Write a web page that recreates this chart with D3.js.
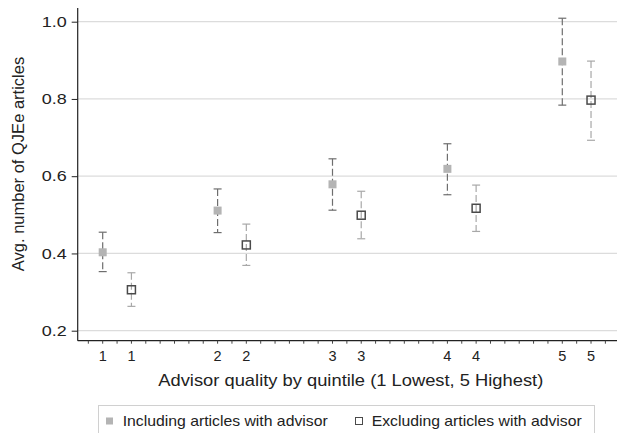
<!DOCTYPE html>
<html>
<head>
<meta charset="utf-8">
<script src="https://cdn.jsdelivr.net/npm/d3@7"></script>
<style>
  body { margin: 0; background: #fff; }
  text { font-family: "Liberation Sans", Arial, sans-serif; fill: #222; }
</style>
</head>
<body>
<svg id="chart"></svg>
<script>
const width = 617, height = 433;

// Data
const quintiles = [1, 2, 3, 4, 5];
const incMean = [0.403, 0.511, 0.579, 0.619, 0.897];
const incLo   = [0.353, 0.454, 0.512, 0.552, 0.784];
const incHi   = [0.455, 0.567, 0.645, 0.684, 1.009];
const excMean = [0.306, 0.422, 0.499, 0.517, 0.797];
const excLo   = [0.263, 0.369, 0.438, 0.457, 0.693];
const excHi   = [0.350, 0.476, 0.561, 0.577, 0.898];
const yTicks = [0.2, 0.4, 0.6, 0.8, 1.0];
const seriesNames = ["Including articles with advisor", "Excluding articles with advisor"];
const offset = 0.25;

const svg = d3.select("#chart")
    .attr("width", width)
    .attr("height", height);

const plotLeft = 77.7, plotTop = 8, plotBottom = 340.7, plotRight = 617;

const x = d3.scaleLinear().domain([1, 5]).range([102.7, 562.3]);
const y = d3.scaleLinear().domain([0.2, 1.0]).range([330.7, 21.7]);

// gridlines
svg.append("g").selectAll("line")
    .data(yTicks)
    .join("line")
    .attr("x1", plotLeft).attr("x2", plotRight)
    .attr("y1", d => y(d)).attr("y2", d => y(d))
    .attr("stroke", "#dcdcdc")
    .attr("stroke-width", 1.2);

// y axis
const yAxis = svg.append("g")
    .attr("transform", `translate(${plotLeft},0)`)
    .call(d3.axisLeft(y).tickValues(yTicks).tickFormat(d3.format(".1f")).tickSize(6).tickPadding(5));
yAxis.select(".domain").remove();
yAxis.selectAll("line").attr("stroke", "#222");
yAxis.selectAll("text")
    .attr("font-size", 14.5)
    .attr("fill", "#222")
    .attr("font-family", "Liberation Sans, Arial, sans-serif")
    .attr("textLength", 25)
    .attr("lengthAdjust", "spacingAndGlyphs");

svg.append("line")
    .attr("x1", plotLeft).attr("x2", plotLeft)
    .attr("y1", plotTop).attr("y2", plotBottom)
    .attr("stroke", "#222").attr("stroke-width", 1.2);

// x axis
svg.append("line")
    .attr("x1", plotLeft).attr("x2", plotRight)
    .attr("y1", plotBottom).attr("y2", plotBottom)
    .attr("stroke", "#222").attr("stroke-width", 1.2);

const minorTicks = d3.range(0.875, 5.5, 0.125);
svg.append("g").selectAll("line")
    .data(minorTicks)
    .join("line")
    .attr("x1", d => x(d)).attr("x2", d => x(d))
    .attr("y1", plotBottom).attr("y2", plotBottom + 3)
    .attr("stroke", "#444");

const xLabels = quintiles.flatMap(q => [{ pos: q, label: q }, { pos: q + offset, label: q }]);
svg.append("g").selectAll("text")
    .data(xLabels)
    .join("text")
    .attr("x", d => x(d.pos))
    .attr("y", 361)
    .attr("text-anchor", "middle")
    .attr("font-size", 14.5)
    .text(d => d.label);

// axis titles
svg.append("text")
    .attr("x", 158.3)
    .attr("y", 386)
    .attr("font-size", 17)
    .attr("textLength", 385)
    .attr("lengthAdjust", "spacingAndGlyphs")
    .text("Advisor quality by quintile (1 Lowest, 5 Highest)");

svg.append("text")
    .attr("transform", "translate(24,164) rotate(-90)")
    .attr("text-anchor", "middle")
    .attr("font-size", 16.5)
    .text("Avg. number of QJEe articles");

// error bars + markers
function drawSeries(mean, lo, hi, shift, barColor, drawMarker) {
    const g = svg.append("g");
    const data = quintiles.map((q, i) => ({ q: q + shift, m: mean[i], lo: lo[i], hi: hi[i] }));
    g.selectAll(".bar")
        .data(data)
        .join("line")
        .attr("x1", d => x(d.q)).attr("x2", d => x(d.q))
        .attr("y1", d => y(d.hi)).attr("y2", d => y(d.lo))
        .attr("stroke", barColor)
        .attr("stroke-width", 1.2)
        .attr("stroke-dasharray", "7,3");
    g.selectAll(".capTop")
        .data(data)
        .join("line")
        .attr("x1", d => x(d.q) - 4).attr("x2", d => x(d.q) + 4)
        .attr("y1", d => y(d.hi)).attr("y2", d => y(d.hi))
        .attr("stroke", barColor).attr("stroke-width", 1.2);
    g.selectAll(".capBot")
        .data(data)
        .join("line")
        .attr("x1", d => x(d.q) - 4).attr("x2", d => x(d.q) + 4)
        .attr("y1", d => y(d.lo)).attr("y2", d => y(d.lo))
        .attr("stroke", barColor).attr("stroke-width", 1.2);
    drawMarker(g.selectAll(".mk").data(data).join("rect")
        .attr("x", d => x(d.q) - 4).attr("y", d => y(d.m) - 4)
        .attr("width", 8).attr("height", 8));
}

drawSeries(incMean, incLo, incHi, 0, "#6e6e6e", sel => sel.attr("fill", "#b4b4b4"));
drawSeries(excMean, excLo, excHi, offset, "#a8a8a8",
    sel => sel.attr("fill", "none").attr("stroke", "#4a4a4a").attr("stroke-width", 1.5));

// legend
svg.append("rect")
    .attr("x", 98.5).attr("y", 405.5)
    .attr("width", 496).attr("height", 40)
    .attr("fill", "#fff").attr("stroke", "#d0d0d0");

const legend = svg.append("g");
legend.append("rect")
    .attr("x", 106).attr("y", 417.5).attr("width", 7).attr("height", 7)
    .attr("fill", "#b4b4b4");
legend.append("text")
    .attr("x", 122.7).attr("y", 425.5)
    .attr("font-size", 14.5)
    .attr("textLength", 205)
    .attr("lengthAdjust", "spacingAndGlyphs")
    .text(seriesNames[0]);
legend.append("rect")
    .attr("x", 355.5).attr("y", 417.5).attr("width", 7).attr("height", 7)
    .attr("fill", "none").attr("stroke", "#4a4a4a").attr("stroke-width", 1);
legend.append("text")
    .attr("x", 371.7).attr("y", 425.5)
    .attr("font-size", 14.5)
    .attr("textLength", 210)
    .attr("lengthAdjust", "spacingAndGlyphs")
    .text(seriesNames[1]);
</script>
</body>
</html>
